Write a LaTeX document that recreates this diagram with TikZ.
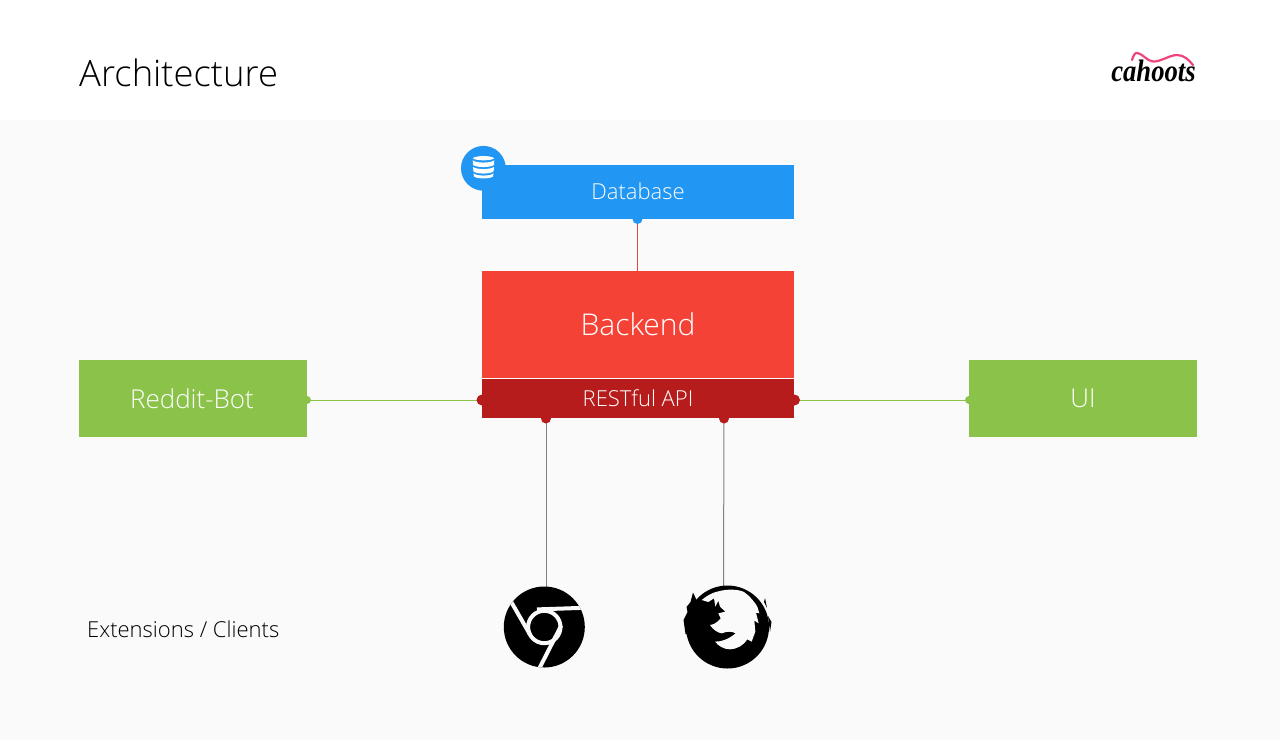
\documentclass[tikz,border=0pt]{standalone}
\usepackage{fontspec}
\setmainfont{Open Sans Light}
\newfontfamily\logofont{Liberation Serif}
\definecolor{bgc}{HTML}{FAFAFA}
\definecolor{bluec}{HTML}{2196F3}
\definecolor{redc}{HTML}{F44336}
\definecolor{darkred}{HTML}{B71C1C}
\definecolor{greenc}{HTML}{8BC34A}
\definecolor{pinkc}{HTML}{F0457A}
\definecolor{greyline}{HTML}{808080}
\definecolor{redline}{HTML}{E8483C}
\tikzset{
  x=1pt,y=-1pt,
  box/.style={rectangle,inner sep=0pt,outer sep=0pt,minimum width=#1,text=white},
  link/.style={line width=1pt},
}
\begin{document}
\begin{tikzpicture}
\useasboundingbox (0,0) rectangle (1280,740);
\fill[white] (0,0) rectangle (1280,740);
\fill[bgc] (0,120) rectangle (1280,740);
\node[anchor=base west,inner sep=0pt,font=\fontsize{36.4}{40}\selectfont] (title) at (79,86.5) {Architecture};
% logo
\node[anchor=base,inner sep=0pt,xscale=.86,font=\logofont\fontsize{31}{33}\selectfont\bfseries\itshape] (logo) at (1153.5,81.5) {cahoots};
\draw[pinkc,line width=2.2pt,line cap=round] (1132,60) .. controls (1133.5,55) and (1135,52.5) .. (1137.5,53) .. controls (1143,54) and (1147,61) .. (1153,61.5) .. controls (1160,62) and (1170,55) .. (1177,55) .. controls (1184,55) and (1189,60) .. (1193,65);
% boxes
\node[box=312pt,minimum height=54pt,fill=bluec,anchor=north west,font=\fontsize{22}{24}\selectfont] (db) at (482,165) {\raisebox{1pt}{Database}};
\node[box=312pt,minimum height=106.5pt,fill=redc,anchor=north west,font=\fontsize{30}{32}\selectfont] (be) at (482,271) {Backend};
\node[box=312pt,minimum height=39pt,fill=darkred,anchor=north west,font=\fontsize{22}{24}\selectfont] (api) at (482,379) {\raisebox{-1pt}{RESTful API}};
\node[box=228pt,minimum height=77pt,fill=greenc,anchor=north west,font=\fontsize{26}{28}\selectfont] (bot) at (79,360) {\raisebox{-.5pt}{\hspace{-2pt}Reddit-Bot}};
\node[box=228pt,minimum height=77pt,fill=greenc,anchor=north west,font=\fontsize{26}{28}\selectfont] (ui) at (969,360) {\raisebox{-.5pt}{UI}};
% database badge
\fill[bluec] (483.4,168.3) circle (22.4);
\fill[white] (472.7,158.3) .. controls (476,155.3) and (491,155.3) .. (494.3,158.3) .. controls (491,161) and (476,161) .. (472.7,158.3) -- cycle;
\fill[white] (472.7,160.3) .. controls (476,163.3) and (491,163.3) .. (494.3,160.3) -- (494,164.8) .. controls (491,167.8) and (476,167.8) .. (473,164.8) -- cycle;
\fill[white] (473,166.8) .. controls (476,169.8) and (491,169.8) .. (494,166.8) -- (493.6,171.3) .. controls (491,174.3) and (476,174.3) .. (473.4,171.3) -- cycle;
\fill[white] (473.5,173.3) .. controls (476,176.3) and (491,176.3) .. (493.5,173.3) -- (493,176.5) .. controls (490,179) and (477,179) .. (474,176.5) -- cycle;
% connector anchors
\coordinate (dbb) at (637.5,219);
\coordinate (bet) at (637.5,271);
\coordinate (botr) at (307,400);
\coordinate (apil) at (482,400);
\coordinate (apir) at (794.5,400);
\coordinate (uil) at (969,400);
\coordinate (apib1) at (546,418.5);
\coordinate (apib2) at (724,418.5);
\coordinate (chr) at (546,588);
\coordinate (ffx) at (723.5,586);
\draw[redline,link] (dbb) -- (bet);
\draw[greenc,link] (botr) -- (apil);
\draw[greenc,link] (apir) -- (uil);
\draw[greyline,link] (apib1) -- (chr);
\draw[greyline,link] (apib2) -- (ffx);
\fill[bluec] (dbb) circle (5);
\fill[darkred] (apil) circle (5.5);
\fill[darkred] (apir) circle (5.5);
\fill[darkred] (apib1) circle (5);
\fill[darkred] (apib2) circle (5);
\fill[greenc] (botr) circle (4);
\fill[greenc] (uil) circle (4);
% chrome
\fill[black] (544.3,627) circle (40.5);
\begin{scope}
\clip (544.3,627) circle (40.5);
\draw[bgc,line width=4pt] (544.3,627) circle (16.2);
\draw[bgc,line width=4pt] (510.7,601) -- (530,634.5);
\draw[bgc,line width=4pt] (537,609.4) -- (590,607.6);
\draw[bgc,line width=4pt] (561.2,625.5) -- (538,671);
\end{scope}
% firefox
\fill[black] (727.5,627) circle (41.5);
\fill[black] (703,601) -- (696.5,600) -- (693,592.5) -- (690.5,602) -- (686.5,607) -- (687.5,612) -- (683.5,620) -- (685.5,634) -- (705,640) -- (715,610) -- cycle;
\fill[black] (764,602) -- (765,598) -- (767,608) -- cycle;
\fill[black] (768,616) -- (771.5,622) -- (770,632) -- cycle;
\begin{scope}[shift={(700,590)},x=0.3333pt,y=-0.3333pt]
\fill[bgc] (5,30) .. controls (20,18) and (35,8) .. (55,4) .. controls (85,-4) and (115,-2) .. (132,6) .. controls (150,18) and (165,38) .. (172,50) -- (178,70) -- (168,68) -- (176,100) -- (163,92) -- (166,125) -- (155,155) -- (142,148) .. controls (132,165) and (110,178) .. (90,178) .. controls (72,178) and (55,168) .. (45,155) .. controls (65,155) and (85,148) .. (107,130) .. controls (97,125) and (85,122) .. (65,130) .. controls (52,128) and (38,118) .. (30,105) -- (42,102) -- (52,95) -- (62,85) -- (55,70) -- (76,65) -- (60,50) -- (55,32) -- (46,50) -- (42,25) -- (25,36) -- cycle;
\end{scope}
\node[anchor=west,inner sep=0pt,font=\fontsize{22}{24}\selectfont] (ext) at (87,629) {Extensions / Clients};
\end{tikzpicture}
\end{document}
